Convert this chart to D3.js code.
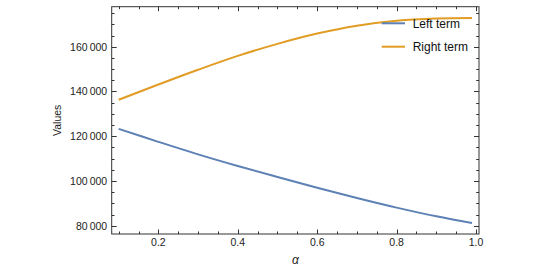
<!DOCTYPE html>
<html>
<head>
<meta charset="utf-8">
<script src="https://cdn.jsdelivr.net/npm/d3@7"></script>
<style>
  body { margin: 0; background: #fff; }
  svg { display: block; font-family: "Liberation Sans", Arial, sans-serif; }
</style>
</head>
<body>
<div id="chart"></div>
<script>
// alpha sample points and the two plotted series
const alphas     = [0.1, 0.2, 0.3, 0.4, 0.5, 0.6, 0.7, 0.8, 0.9, 0.99];
const leftTerm   = [123300, 117500, 111900, 106700, 101800, 97000, 92400, 88100, 84200, 81200];
const rightTerm  = [136300, 143100, 149700, 155900, 161300, 165900, 169400, 171600, 172600, 172800];
const seriesNames = ["Left term", "Right term"];
const xMajor = [0.2, 0.4, 0.6, 0.8, 1.0];
const yMajor = [80000, 100000, 120000, 140000, 160000];

const width = 533, height = 271;
const frame = { left: 111.7, right: 479, top: 6.7, bottom: 234 };
const colors = ["#5E81B5", "#E19C24"];

const svg = d3.select("#chart").append("svg")
    .attr("width", width)
    .attr("height", height);

const x = d3.scaleLinear().domain([0.0825, 1.0075]).range([frame.left, frame.right]);
const y = d3.scaleLinear().domain([76300, 177900]).range([frame.bottom, frame.top]);

const locale = d3.formatLocale({ decimal: ".", thousands: "\u2009", grouping: [3], currency: ["", ""] });
const fmtY = locale.format(",d");
const fmtX = d3.format(".1f");

// minor ticks: every 0.05 and every 5000, skipping majors
const xMinor = d3.range(0.1, 1.0001, 0.05).filter(v => !xMajor.some(m => Math.abs(m - v) < 1e-6));
const yMinor = d3.range(80000, 177000, 5000).filter(v => !yMajor.includes(v));

const frameColor = "#333";
const g = svg.append("g");

// ticks on all four sides (labels only bottom/left)
const tickLayer = g.append("g").attr("stroke", frameColor).attr("stroke-width", 1);
function xTicks(vals, len) {
    vals.forEach(v => {
        const px = Math.round(x(v)) + 0.5;
        tickLayer.append("line").attr("x1", px).attr("x2", px)
            .attr("y1", frame.bottom).attr("y2", frame.bottom - len);
        tickLayer.append("line").attr("x1", px).attr("x2", px)
            .attr("y1", frame.top).attr("y2", frame.top + len);
    });
}
function yTicks(vals, len) {
    vals.forEach(v => {
        const py = Math.round(y(v)) + 0.5;
        tickLayer.append("line").attr("y1", py).attr("y2", py)
            .attr("x1", frame.left).attr("x2", frame.left + len);
        tickLayer.append("line").attr("y1", py).attr("y2", py)
            .attr("x1", frame.right).attr("x2", frame.right - len);
    });
}
xTicks(xMajor, 4.5);
xTicks(xMinor, 2.5);
yTicks(yMajor, 5);
yTicks(yMinor, 2.8);

// frame
g.append("rect")
    .attr("x", frame.left).attr("y", frame.top)
    .attr("width", frame.right - frame.left)
    .attr("height", frame.bottom - frame.top)
    .attr("fill", "none")
    .attr("stroke", frameColor)
    .attr("stroke-width", 1);

// tick labels
g.append("g").selectAll("text").data(xMajor).join("text")
    .attr("x", d => x(d))
    .attr("y", frame.bottom + 12)
    .attr("text-anchor", "middle")
    .attr("font-size", 10.5)
    .attr("fill", "#222")
    .text(d => fmtX(d));

g.append("g").selectAll("text").data(yMajor).join("text")
    .attr("x", frame.left - 4.5)
    .attr("y", d => y(d) + 3.8)
    .attr("text-anchor", "end")
    .attr("font-size", 10.5)
    .attr("fill", "#222")
    .text(d => fmtY(d));

// axis titles
svg.append("text")
    .attr("transform", `translate(61,${(frame.top + frame.bottom) / 2}) rotate(-90)`)
    .attr("text-anchor", "middle")
    .attr("font-size", 10.5)
    .attr("fill", "#222")
    .text("Values");

svg.append("text")
    .attr("x", (frame.left + frame.right) / 2)
    .attr("y", 264)
    .attr("text-anchor", "middle")
    .attr("font-size", 12)
    .attr("font-style", "italic")
    .attr("fill", "#222")
    .text("α");

// series lines
const line = d3.line()
    .x((d, i) => x(alphas[i]))
    .y(d => y(d))
    .curve(d3.curveCatmullRom.alpha(0.5));

[leftTerm, rightTerm].forEach((s, i) => {
    g.append("path")
        .datum(s)
        .attr("fill", "none")
        .attr("stroke", colors[i])
        .attr("stroke-width", 2)
        .attr("d", line);
});

// legend (inside, top right)
const legend = svg.append("g");
seriesNames.forEach((name, i) => {
    const ly = 23.3 + i * 23.4;
    legend.append("line")
        .attr("x1", 381.7).attr("x2", 405)
        .attr("y1", ly).attr("y2", ly)
        .attr("stroke", colors[i])
        .attr("stroke-width", 2);
    legend.append("text")
        .attr("x", 412.7)
        .attr("y", ly + 4.5)
        .attr("font-size", 12)
        .attr("fill", "#111")
        .text(name);
});
</script>
</body>
</html>
